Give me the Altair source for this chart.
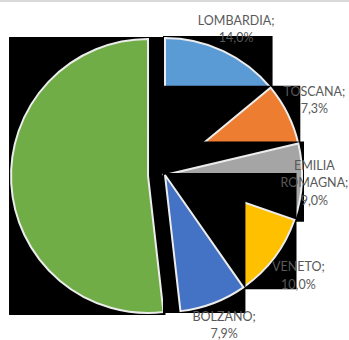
import math
import altair as alt
import pandas as pd

# Slices in clockwise order, starting at 12 o'clock
regions = ["LOMBARDIA", "TOSCANA", "EMILIA\nROMAGNA", "VENETO", "BOLZANO", "ALTRE REGIONI"]
shares = [14.0, 7.3, 9.0, 10.0, 7.9, 51.8]
colors = ["#5B9BD5", "#ED7D31", "#A5A5A5", "#FFC000", "#4472C4", "#70AD47"]
labelled = [True, True, True, True, True, False]
exploded = [False, False, False, False, False, True]

# Layout (pixels)
W, H = 349, 340
R_PX = 137               # pie radius
CX_PX, CY_PX = 165, 175  # pie centre
EXPLODE = 17 / R_PX      # how far the exploded slice is pulled out (in radii)
LABEL_R = 1.22           # label distance from the centre (in radii)
FONT_SIZE = 12.5
LINE_H = 17.5
CHAR_W = 8.4             # rough width of one label character, px
EDGE_X = 1               # minimum gap between a label and the right edge, px
EDGE_TOP = 12            # minimum gap between a label and the top edge, px
EDGE_BOTTOM = 6          # minimum gap between a label's last line and the bottom, px
PAD = 2 / R_PX           # room for the slice outline

# Scale domains in "radius" units so that one unit == R_PX pixels on both axes
x_dom = [-CX_PX / R_PX, (W - CX_PX) / R_PX]
y_dom = [-(H - CY_PX) / R_PX, CY_PX / R_PX]


def fmt(v):
    return f"{v:.1f}".replace(".", ",") + "%"


rows = []
total = sum(shares)
acc = 0.0
for name, v, lab, exp in zip(regions, shares, labelled, exploded):
    t0 = acc / total
    t1 = (acc + v) / total
    acc += v
    a0, a1 = 2 * math.pi * t0, 2 * math.pi * t1
    mid = (a0 + a1) / 2
    cx = EXPLODE * math.sin(mid) if exp else 0.0
    cy = EXPLODE * math.cos(mid) if exp else 0.0
    # bounding box of the wedge: centre, both ends and any cardinal point crossed
    pts = [(cx, cy), (cx + math.sin(a0), cy + math.cos(a0)),
           (cx + math.sin(a1), cy + math.cos(a1))]
    for k in range(5):
        a = k * math.pi / 2
        if a0 < a < a1:
            pts.append((cx + math.sin(a), cy + math.cos(a)))
    xs = [p[0] for p in pts]
    ys = [p[1] for p in pts]

    text = f"{name};\n{fmt(v)}"
    lines = text.split("\n")
    n_extra = len(lines) - 1
    half_w = max(len(s) for s in lines) * CHAR_W / 2 / R_PX
    half_h = len(lines) * LINE_H / 2 / R_PX
    # centre of the label block, kept inside the chart area
    bx = min(LABEL_R * math.sin(mid), x_dom[1] - EDGE_X / R_PX - half_w)
    by = min(LABEL_R * math.cos(mid), y_dom[1] - EDGE_TOP / R_PX - half_h)
    by = max(by, y_dom[0] + (EDGE_BOTTOM + n_extra * LINE_H / 2) / R_PX)
    # text is anchored on its first line, so lift it by half the extra lines
    first_line_y = by + n_extra * LINE_H / 2 / R_PX
    rows.append(dict(region=name, t0=t0, t1=t1, cx=cx, cy=cy,
                     bx0=min(xs) - PAD, bx1=max(xs) + PAD,
                     by0=min(ys) - PAD, by1=max(ys) + PAD,
                     lx=bx, ly=first_line_y, label=text, labelled=lab))

df = pd.DataFrame(rows)

xs_scale = alt.Scale(domain=x_dom, nice=False, zero=False)
ys_scale = alt.Scale(domain=y_dom, nice=False, zero=False)
theta_scale = alt.Scale(domain=[0, 1], range=[0, 2 * math.pi])
color_scale = alt.Scale(domain=regions, range=colors)

base = alt.Chart(df)


def wedge_layers(name):
    sel = base.transform_filter(alt.datum.region == name)
    box = sel.mark_rect(color="black").encode(
        x=alt.X("bx0:Q", scale=xs_scale, axis=None),
        x2="bx1:Q",
        y=alt.Y("by0:Q", scale=ys_scale, axis=None),
        y2="by1:Q",
    )
    arc = sel.mark_arc(radius=R_PX, stroke="#ececec", strokeWidth=2).encode(
        x=alt.X("cx:Q", scale=xs_scale, axis=None),
        y=alt.Y("cy:Q", scale=ys_scale, axis=None),
        theta=alt.Theta("t0:Q", scale=theta_scale, stack=None),
        theta2="t1:Q",
        color=alt.Color("region:N", scale=color_scale, legend=None),
    )
    return [box, arc]


# the large slice sits underneath, the rest are drawn clockwise on top
order = [regions[-1]] + regions[:-1]
layers = []
for n in order:
    layers += wedge_layers(n)

labels = base.transform_filter(alt.datum.labelled).mark_text(
    font="Lato", fontSize=FONT_SIZE, color="#595959", lineBreak="\n",
    lineHeight=LINE_H, align="center", baseline="middle",
).encode(
    x=alt.X("lx:Q", scale=xs_scale, axis=None),
    y=alt.Y("ly:Q", scale=ys_scale, axis=None),
    text="label:N",
)

top_line = alt.Chart(pd.DataFrame({"k": [0]})).mark_rule(
    color="#d9d9d9", strokeWidth=2
).encode(x=alt.value(0), x2=alt.value(W), y=alt.value(1))

chart = alt.layer(*layers, labels, top_line).properties(
    width=W, height=H, padding=0, autosize="none", background="white"
).configure_view(stroke=None)

chart.save("out.html", embed_options={"renderer": "svg", "actions": False})
